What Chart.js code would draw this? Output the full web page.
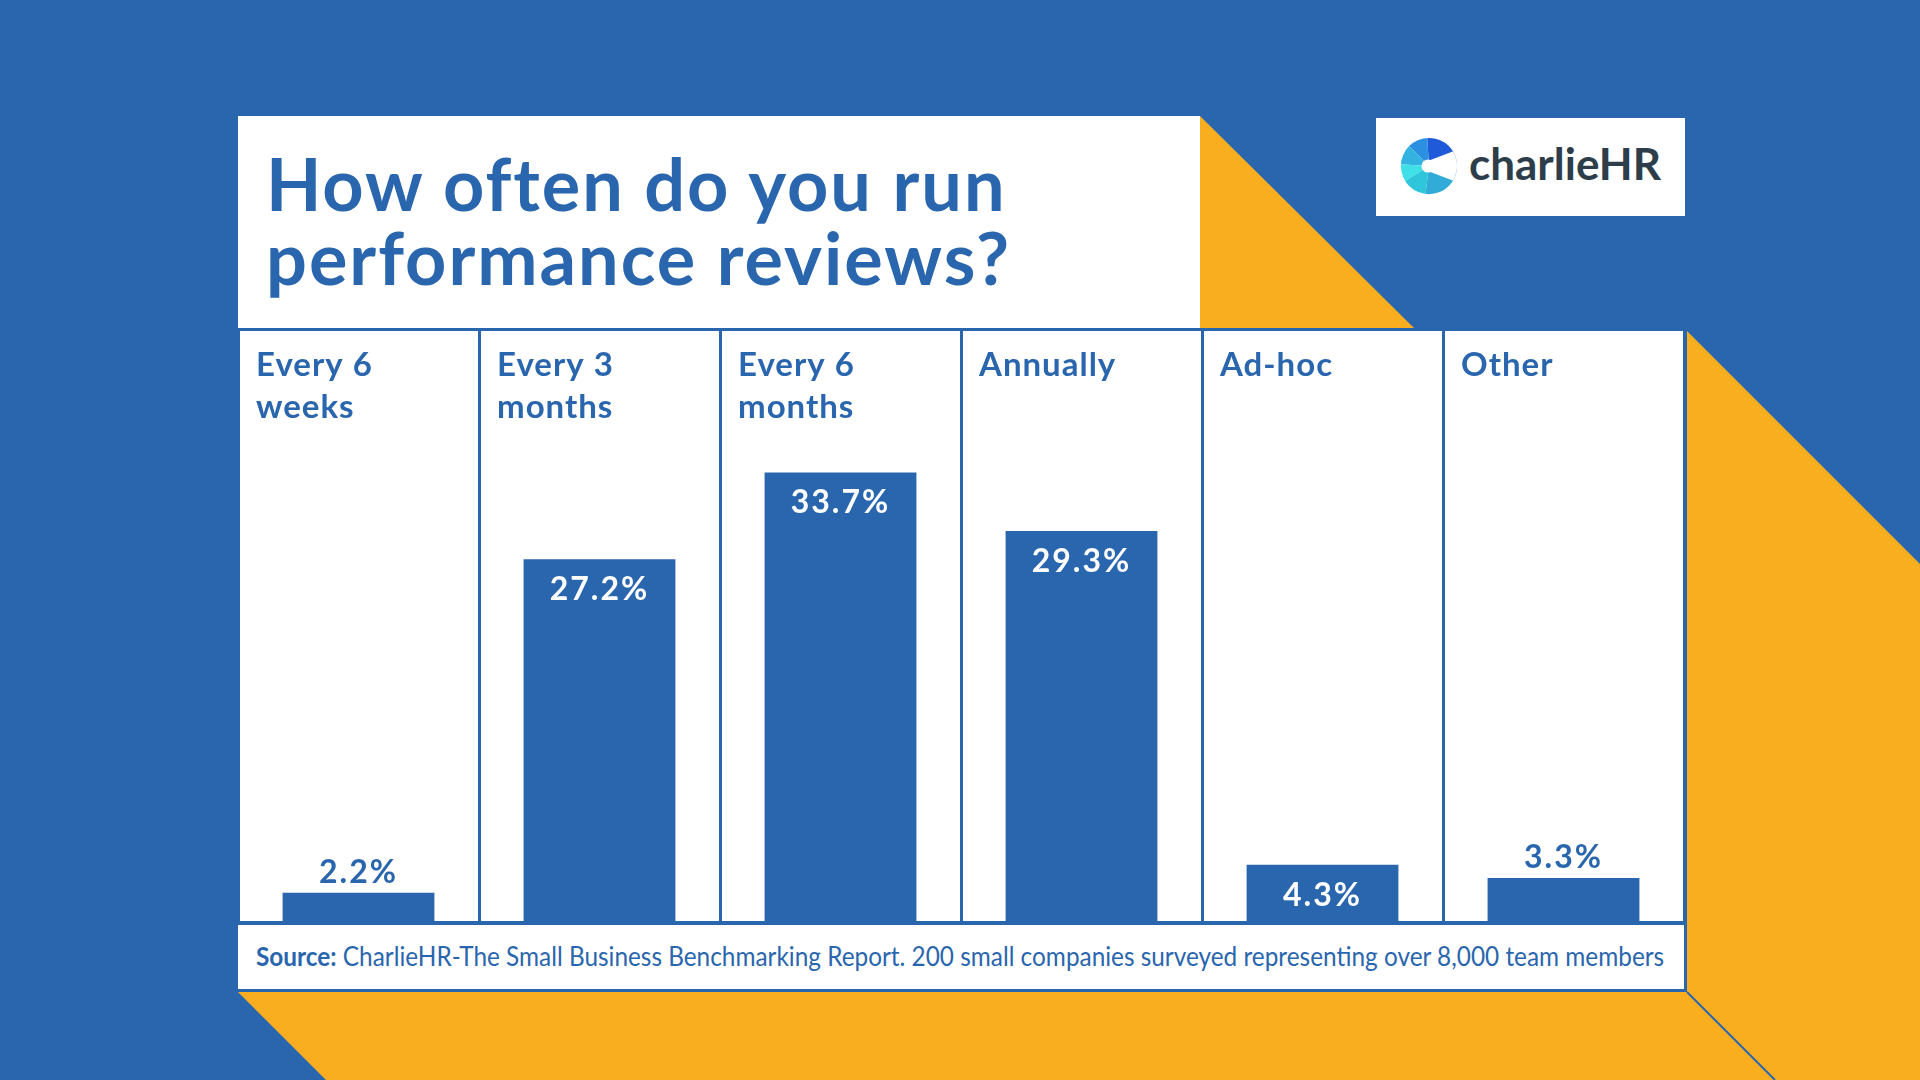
<!DOCTYPE html>
<html>
<head>
<meta charset="utf-8">
<script src="https://cdn.jsdelivr.net/npm/chart.js@4.4.1/dist/chart.umd.min.js"></script>
<style>
    html, body { margin: 0; padding: 0; }
    body {
        width: 1920px;
        height: 1080px;
        overflow: hidden;
        position: relative;
        background: #2a66ae;
        font-family: 'Lato', sans-serif;
    }
    .shapes { position: absolute; left: 0; top: 0; }
    .box { position: absolute; background: #fff; }
    #title {
        position: absolute;
        left: 266px;
        top: 146px;
        margin: 0;
        font-size: 72px;
        line-height: 74px;
        font-weight: 700;
        letter-spacing: 2px;
        color: #2a66ae;
        white-space: nowrap;
    }
    #logo-text {
        position: absolute;
        left: 1469px;
        top: 137px;
        font-size: 44px;
        line-height: 1.2;
        font-weight: 700;
        color: #2d3e4a;
    }
    #chart-wrap {
        position: absolute;
        left: 238px;
        top: 331px;
        width: 1446px;
        height: 591px;
        background: #fff;
    }
    #source {
        position: absolute;
        left: 256px;
        top: 941px;
        font-size: 26px;
        line-height: 1.2;
        color: #2a66ae;
        white-space: nowrap;
        transform: scaleX(0.937);
        transform-origin: left top;
    }
    #source b { font-weight: 700; }
</style>
</head>
<body>

<svg class="shapes" width="1920" height="1080">
    <polygon points="1200,116 1200,328 1414,328" fill="#f9ae1f"/>
    <polygon points="1687,331 1920,564 1920,1080 326,1080 238,992 1687,992" fill="#f9ae1f"/>
    <line x1="1687" y1="992" x2="1775" y2="1080" stroke="#2a66ae" stroke-width="2"/>
</svg>

<!-- card pieces -->
<div class="box" style="left:238px; top:116px; width:962px; height:212px;"></div>
<div class="box" style="left:238px; top:328px; width:1449px; height:664px; background:#2a66ae;"></div>
<div class="box" style="left:238px; top:925px; width:1446px; height:64px;"></div>

<h1 id="title">How often do you run<br>performance reviews?</h1>

<!-- logo -->
<div class="box" style="left:1376px; top:118px; width:309px; height:98px;"></div>
<svg class="shapes" style="left:1399px; top:136px;" width="60" height="60" viewBox="0 0 64 64">
    <defs><clipPath id="c"><circle cx="32" cy="32" r="30"/></clipPath></defs>
    <g clip-path="url(#c)">
        <polygon points="32,32 30,0 64,0 64,20" fill="#1f5bd8"/>
        <polygon points="32,32 0,0 30,0" fill="#2b8fe2"/>
        <polygon points="32,32 0,0 0,30" fill="#35b3e0"/>
        <polygon points="32,32 0,30 0,52" fill="#3fe0e8"/>
        <polygon points="32,32 0,52 0,64 28,64" fill="#2fc6dc"/>
        <polygon points="32,32 28,64 64,64 64,44" fill="#31acd8"/>
        <polygon points="32,32 64,20 64,44" fill="#2a86d2"/>
        <polygon points="30,27 64,14 64,50 30,37" fill="#fff"/>
        <circle cx="31" cy="32" r="7" fill="#fff"/>
    </g>
</svg>
<div id="logo-text">charlieHR</div>

<div id="chart-wrap"><canvas id="reviewChart" width="1446" height="591"></canvas></div>

<div id="source"><b>Source:</b> CharlieHR-The Small Business Benchmarking Report. 200 small companies surveyed representing over 8,000 team members</div>

<script>
const BLUE = '#2a66ae';

const categories = [
    ['Every 6', 'weeks'],
    ['Every 3', 'months'],
    ['Every 6', 'months'],
    ['Annually'],
    ['Ad-hoc'],
    ['Other']
];
const shares = [2.2, 27.2, 33.7, 29.3, 4.3, 3.3];
const yMax = 44.3;

// column headings + value labels
const labelPlugin = {
    id: 'labelPlugin',
    afterDatasetsDraw(chart) {
        const ctx = chart.ctx;
        const xScale = chart.scales.x;
        const area = chart.chartArea;
        const colWidth = (area.right - area.left) / categories.length;

        ctx.save();
        ctx.font = '700 33px Lato';
        ctx.letterSpacing = '1px';
        ctx.fillStyle = BLUE;
        ctx.textAlign = 'left';
        ctx.textBaseline = 'alphabetic';
        categories.forEach((lines, i) => {
            const left = xScale.getPixelForValue(i) - colWidth / 2 + 18;
            lines.forEach((line, j) => {
                ctx.fillText(line, left, area.top + 45 + j * 41.5);
            });
        });

        ctx.font = '700 32px Lato';
        ctx.letterSpacing = '2px';
        ctx.textAlign = 'center';
        chart.getDatasetMeta(0).data.forEach((bar, i) => {
            const text = shares[i].toFixed(1) + '%';
            const height = bar.base - bar.y;
            if (height > 50) {
                ctx.fillStyle = '#fff';
                ctx.fillText(text, bar.x, bar.y + 41);
            } else {
                ctx.fillStyle = BLUE;
                ctx.fillText(text, bar.x, bar.y - 10);
            }
        });
        ctx.restore();
    }
};

const ctx = document.getElementById('reviewChart').getContext('2d');
new Chart(ctx, {
    type: 'bar',
    data: {
        labels: categories,
        datasets: [{
            data: shares,
            backgroundColor: BLUE,
            barPercentage: 0.63,
            categoryPercentage: 1
        }]
    },
    options: {
        responsive: false,
        animation: false,
        devicePixelRatio: 1,
        layout: { padding: 0 },
        plugins: {
            legend: { display: false },
            tooltip: { enabled: false }
        },
        scales: {
            x: {
                ticks: { display: false },
                grid: { color: BLUE, lineWidth: 3, drawTicks: false, offset: true },
                border: { display: true, color: BLUE, width: 3 }
            },
            y: {
                display: false,
                min: 0,
                max: yMax
            }
        }
    },
    plugins: [labelPlugin]
});
</script>
</body>
</html>
